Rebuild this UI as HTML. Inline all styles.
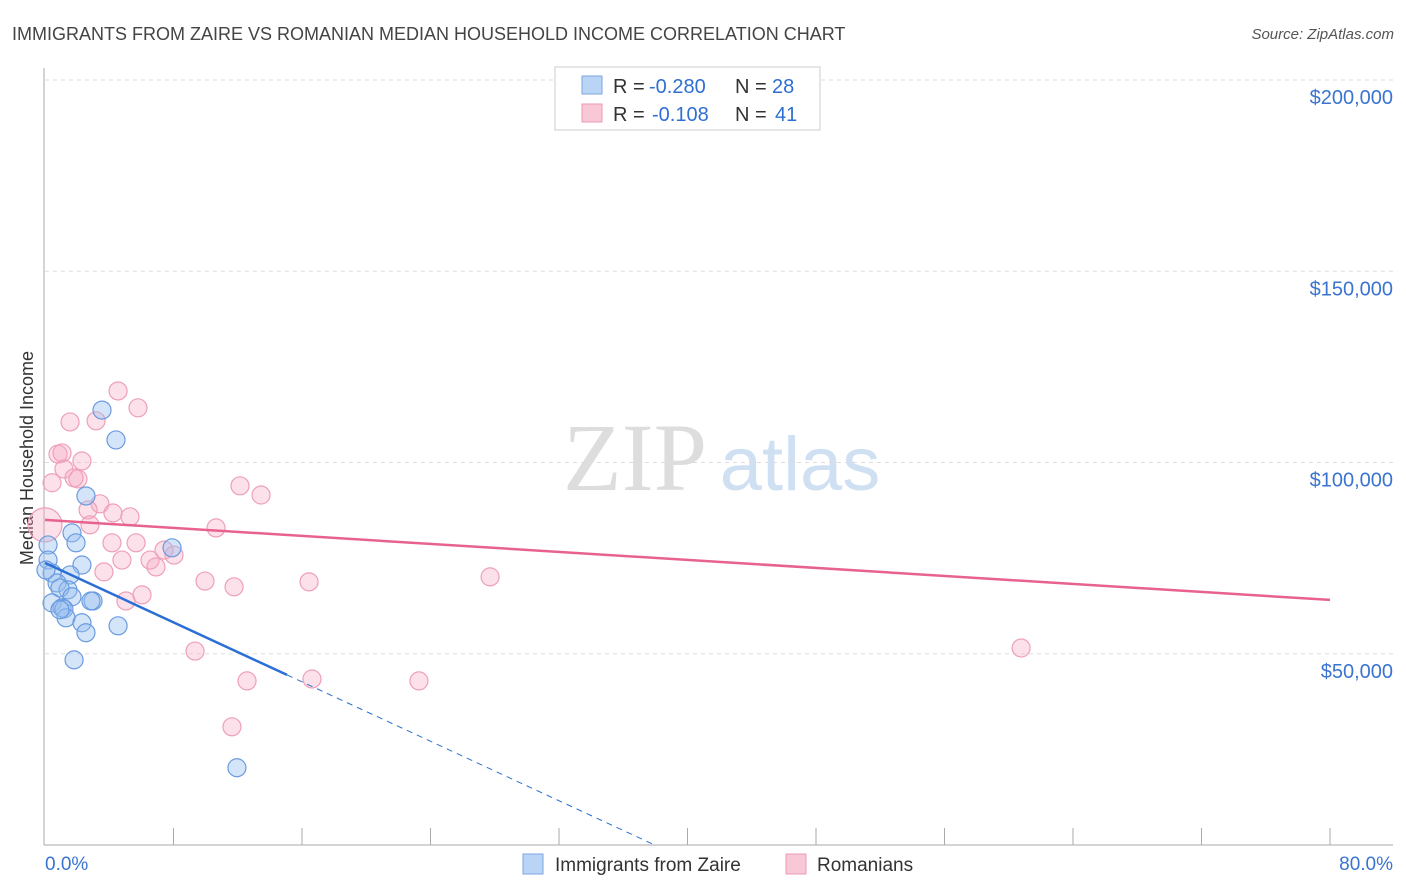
<!DOCTYPE html>
<html><head><meta charset="utf-8">
<style>
body{margin:0;background:#fff;font-family:"Liberation Sans",sans-serif;}
svg{display:block}
</style></head>
<body>
<svg width="1406" height="892" id="chart">
<text x="12" y="40" font-size="18" fill="#444">IMMIGRANTS FROM ZAIRE VS ROMANIAN MEDIAN HOUSEHOLD INCOME CORRELATION CHART</text>
<text x="1394" y="39" font-size="15" fill="#555" text-anchor="end" font-style="italic">Source: ZipAtlas.com</text>
<text x="33" y="458" font-size="18" fill="#333" text-anchor="middle" transform="rotate(-90 33 458)">Median Household Income</text>
<g>
<text x="635" y="490" font-size="96" fill="#ddd" text-anchor="middle" font-family="Liberation Serif,serif">ZIP</text>
<text x="800" y="490" font-size="76" fill="#cfe0f3" text-anchor="middle">atlas</text>
</g>
<g id="grid"></g>
<g id="marks"></g>
<g>
<rect x="555" y="67" width="265" height="63" fill="#fff" stroke="#ccc"/>
<rect x="582" y="76" width="20" height="18" fill="#b9d4f5" stroke="#7aa6e0"/>
<rect x="582" y="104" width="20" height="18" fill="#f9c8d6" stroke="#ec9ab4"/>
<text x="613" y="93" font-size="20" fill="#333">R =</text>
<text x="649" y="93" font-size="20" fill="#2f6fd1">-0.280</text>
<text x="735" y="93" font-size="20" fill="#333">N =</text>
<text x="772" y="93" font-size="20" fill="#2f6fd1">28</text>
<text x="613" y="121" font-size="20" fill="#333">R =</text>
<text x="652" y="121" font-size="20" fill="#2f6fd1">-0.108</text>
<text x="735" y="121" font-size="20" fill="#333">N =</text>
<text x="775" y="121" font-size="20" fill="#2f6fd1">41</text>
</g>
<g>
<rect x="523" y="854" width="20" height="20" fill="#b9d4f5" stroke="#7aa6e0"/>
<text x="555" y="871" font-size="19" fill="#333">Immigrants from Zaire</text>
<rect x="786" y="854" width="20" height="20" fill="#f9c8d6" stroke="#ec9ab4"/>
<text x="817" y="871" font-size="19" fill="#333">Romanians</text>
</g>
</svg>
<script>
const yTicks=[50000,100000,150000,200000];
const yTickLabels=["$50,000","$100,000","$150,000","$200,000"];
const xTickLabels=["0.0%","80.0%"];
const zaireX=[3.55,4.42,2.55,1.68,1.93,0.19,0.19,2.30,0.44,1.56,0.75,1.43,0.93,1.68,0.44,1.06,2.99,2.86,1.18,1.31,2.30,2.55,4.55,1.81,7.91,11.95,0.06,0.93];
const zaireY=[113700,105900,91250,81600,79000,78450,74500,73200,71100,70600,68500,66700,67200,64900,63300,62000,63800,63800,61700,59400,58100,55500,57300,48400,77700,20200,71900,61500];
const romX=[4.55,5.79,1.56,3.18,0.81,1.06,1.18,2.30,0.44,2.05,1.81,3.42,2.68,4.23,5.29,2.80,10.65,12.14,13.45,4.17,5.67,6.54,7.41,8.03,3.67,4.79,6.91,9.96,11.77,16.44,27.71,5.04,6.04,9.34,12.58,16.62,23.28,11.64,60.77,0,35.5];
const romY=[118700,114300,110600,110900,102200,102500,98300,100400,94700,95700,96000,89200,87600,86800,85800,83700,82900,93900,91500,79000,79000,74500,77100,75800,71400,74500,72700,69000,67500,68800,70100,63800,65400,50700,42900,43400,42900,30900,51500,83700,197900];
const zaireTrend=[73750,-1943];
const romTrend=[84990,-261.5];
const X=v=>45+v/80*1285;
const Y=v=>845-v/200000*765;
const NS="http://www.w3.org/2000/svg";
function mk(parent,tag,attrs){const e=document.createElementNS(NS,tag);for(const k in attrs)e.setAttribute(k,attrs[k]);parent.appendChild(e);return e;}
const grid=document.getElementById('grid'),marks=document.getElementById('marks');
yTicks.forEach((t,i)=>{
 const l=mk(grid,'line',{x1:45,x2:1393,y1:Y(t),y2:Y(t),stroke:'#ddd','stroke-dasharray':'4,4'});
 
 
 const tx=mk(grid,'text',{x:1393,y:Y(t)+24,'font-size':20,fill:'#3a74d0','text-anchor':'end'});
 tx.textContent=yTickLabels[i];
 
 
});
const ax=mk(grid,'line',{x1:44,x2:44,y1:68,y2:845,stroke:'#aaa'});


const bx=mk(grid,'line',{x1:44,x2:1393,y1:845,y2:845,stroke:'#aaa'});


for(let i=1;i<=10;i++){const t=mk(grid,'line',{x1:X(i*8),x2:X(i*8),y1:828,y2:845,stroke:'#aaa'});
 
 }
[[0,'start',45],[80,'end',1393]].forEach((a,i)=>{const t=mk(grid,'text',{x:a[2],y:870,'font-size':19,fill:'#3a74d0','text-anchor':a[1]});t.textContent=xTickLabels[i];
 
 });
romX.forEach((x,i)=>{const c=mk(marks,'circle',{cx:X(x),cy:Y(romY[i]),r:(x===0?17:9),fill:'rgba(246,170,195,0.35)',stroke:'#eea0b8','stroke-width':1.2});
 
 });
zaireX.forEach((x,i)=>{const c=mk(marks,'circle',{cx:X(x),cy:Y(zaireY[i]),r:9,fill:'rgba(150,190,240,0.4)',stroke:'#6a9be0','stroke-width':1.2});
 
 });
let l=mk(marks,'line',{x1:X(0),y1:Y(romTrend[0]),x2:X(80),y2:Y(romTrend[0]+romTrend[1]*80),stroke:'#e8628e','stroke-width':2.5});


const xe=15.07,xz=-zaireTrend[0]/zaireTrend[1];
l=mk(marks,'line',{x1:X(0),y1:Y(zaireTrend[0]),x2:X(xe),y2:Y(zaireTrend[0]+zaireTrend[1]*xe),stroke:'#2b6fd6','stroke-width':2.5});


l=mk(marks,'line',{x1:X(xe),y1:Y(zaireTrend[0]+zaireTrend[1]*xe),x2:X(xz),y2:Y(0),stroke:'#2b6fd6','stroke-width':1,'stroke-dasharray':'6,5'});


</script>
</body></html>
